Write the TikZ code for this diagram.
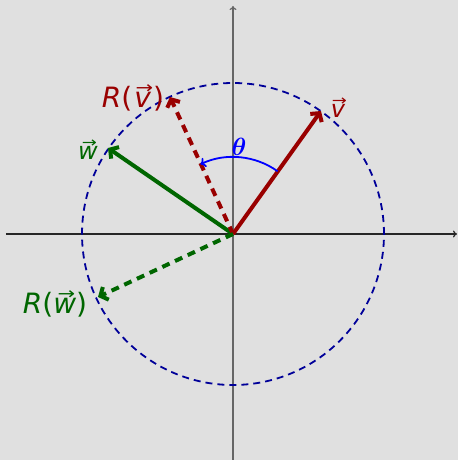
\documentclass[tikz,border=0pt]{standalone}
\usepackage{amsmath}
\usepackage{bm}
\usepackage{fontspec}
\setmainfont{DejaVu Sans}
\usetikzlibrary{arrows.meta}
\definecolor{bg}{HTML}{E0E0E0}
\definecolor{dred}{HTML}{990000}
\definecolor{dgreen}{HTML}{006600}
\definecolor{navy}{HTML}{000099}
\newcommand\arrvec[1]{\leavevmode\vbox{\offinterlineskip\halign{\hfil##\hfil\cr\kern0.12em\scalebox{0.75}[0.6]{→}\cr\noalign{\kern-0.05em}#1\cr}}}
\begin{document}
\begin{tikzpicture}[x=1pt,y=1pt,
  axis/.style={line width=1.2pt,-{To[length=4,width=7]}},
  vec/.style={line width=4pt,-{Straight Barb[length=6,width=14,line width=4pt]}},
  dvec/.style={vec,dash pattern=on 8pt off 6pt},
  lab/.style={inner sep=0pt,font=\fontsize{24}{24}\selectfont\itshape}]
\fill[bg] (-233,-226) rectangle (225,234);
\useasboundingbox (-233,-226) rectangle (225,234);
\coordinate (O) at (0,0);
\coordinate (xl) at (-227,0);
\coordinate (xr) at (224,0);
\coordinate (yb) at (0,-226);
\coordinate (yt) at (0,228);
\draw[axis,black!85] (xl) -- (xr);
\draw[axis,black!60] (yb) -- (yt);
\draw[navy,line width=1.8pt,dash pattern=on 7pt off 5pt] (O) circle[radius=151];
\coordinate (v) at (88,123);
\coordinate (w) at (-125,86);
\coordinate (Rv) at (-63,137);
\coordinate (Rw) at (-135,-63);
\draw[vec,dred] (O) -- (v);
\draw[vec,dgreen] (O) -- (w);
\draw[dvec,dred] (O) -- (Rv);
\draw[dvec,dgreen] (O) -- (Rw);
\draw[blue,line width=1.8pt,-{To[length=5,width=10]}] (54.6:77) arc[start angle=54.6,end angle=115,radius=77];
\node[lab,dred] (lv) at (105,126) {\arrvec{\itshape v}};
\node[lab,dgreen] (lw) at (-145,84) {\arrvec{\itshape w}};
\node[lab,dred,font=\fontsize{28}{28}\selectfont] (lRv) at (-100,136) {\textit{R}(\arrvec{\itshape v})};
\node[lab,dgreen,font=\fontsize{28}{28}\selectfont] (lRw) at (-178,-70) {\textit{R}(\arrvec{\itshape w})};
\node[blue,inner sep=0pt,font=\fontsize{28}{28}\selectfont] (th) at (6,87) {$\bm{\theta}$};
\end{tikzpicture}
\end{document}
